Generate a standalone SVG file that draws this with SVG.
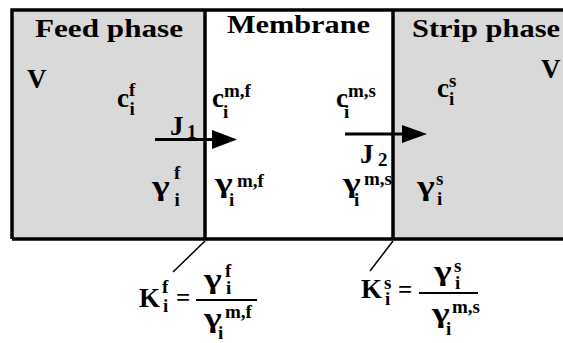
<svg xmlns="http://www.w3.org/2000/svg" width="563" height="343" viewBox="0 0 563 343">
<style>
.t{font-family:"Liberation Serif","Times New Roman",serif;font-weight:bold;fill:#000}
.h{font-size:25px}
.b{font-size:27px}
.s{font-size:19px}
.ln{stroke:#000;fill:none}
</style>
<rect width="563" height="343" fill="#fff"/>
<g id="feed-phase">
<rect x="12" y="10" width="193" height="229" fill="#d9d9d9"/>
<text class="t h" x="35" y="37" textLength="148" lengthAdjust="spacingAndGlyphs">Feed phase</text>
<text class="t b" x="27" y="88">V</text>
<text class="t b" x="117" y="107">c<tspan class="s" x="129" y="96">f</tspan><tspan class="s" x="129.5" y="115">i</tspan></text>
<text class="t b" x="152" y="195" transform="translate(152 0) scale(1.4 1) translate(-152 0)">γ</text>
<text class="t s" x="174" y="179">f<tspan x="174.5" y="206">i</tspan></text>
</g>
<g id="membrane">
<rect x="205" y="10" width="188" height="229" fill="#fff"/>
<text class="t h" x="227" y="33" textLength="143" lengthAdjust="spacingAndGlyphs">Membrane</text>
<text class="t b" x="212" y="107">c<tspan class="s" x="224" y="97">m,f</tspan><tspan class="s" x="223" y="118">i</tspan></text>
<text class="t b" x="336" y="107">c<tspan class="s" x="348" y="97">m,s</tspan><tspan class="s" x="344" y="118">i</tspan></text>
<text class="t b" x="215" y="192" transform="translate(215 0) scale(1.4 1) translate(-215 0)">γ</text>
<text class="t s" x="237" y="187">m,f<tspan x="229" y="206">i</tspan></text>
<text class="t b" x="343" y="192" transform="translate(343 0) scale(1.4 1) translate(-343 0)">γ</text>
<text class="t s" x="364" y="185">m,s<tspan x="354" y="206">i</tspan></text>
</g>
<g id="strip-phase">
<rect x="393" y="10" width="172" height="229" fill="#d9d9d9"/>
<text class="t h" x="412" y="37" textLength="148" lengthAdjust="spacingAndGlyphs">Strip phase</text>
<text class="t b" x="541" y="78">V</text>
<text class="t b" x="437" y="97">c<tspan class="s" x="449" y="87">s</tspan><tspan class="s" x="449" y="105">i</tspan></text>
<text class="t b" x="417" y="195" transform="translate(417 0) scale(1.4 1) translate(-417 0)">γ</text>
<text class="t s" x="436" y="185">s<tspan x="437" y="205">i</tspan></text>
</g>
<g id="frame" class="ln" stroke-width="3.5">
<path d="M12 239 V10 H565 M12 239 H565 M205 10 V239 M393 10 V239"/>
</g>
<g id="connectors">
<path class="ln" stroke-width="3" d="M155 139.5 H214"/>
<path d="M212 130 L237 139.5 L212 149 Z"/>
<text class="t b" x="170" y="135">J<tspan class="s" x="187" y="138">1</tspan></text>
<path class="ln" stroke-width="3" d="M345 134 H404"/>
<path d="M402 125 L427 134 L402 143 Z"/>
<text class="t b" x="360" y="163">J<tspan class="s" x="378" y="166">2</tspan></text>
<path class="ln" stroke-width="1.5" d="M205 241 L173 272"/>
<path class="ln" stroke-width="1.5" d="M393 241 L370 271"/>
</g>
<g id="formula-f">
<text class="t b" x="139" y="307">K<tspan class="s" x="162" y="293">f</tspan><tspan class="s" x="163" y="312">i</tspan></text>
<text class="t h" x="176" y="306">=</text>
<path class="ln" stroke-width="2" d="M196 300 H257"/>
<text class="t b" x="204" y="288" transform="translate(204 0) scale(1.4 1) translate(-204 0)">γ</text>
<text class="t s" x="225" y="277">f<tspan x="226" y="294">i</tspan></text>
<text class="t b" x="204" y="327" transform="translate(204 0) scale(1.4 1) translate(-204 0)">γ</text>
<text class="t s" x="225" y="318">m,f<tspan x="218" y="339">i</tspan></text>
</g>
<g id="formula-s">
<text class="t b" x="361" y="298">K<tspan class="s" x="384" y="289">s</tspan><tspan class="s" x="385" y="305">i</tspan></text>
<text class="t h" x="398" y="298">=</text>
<path class="ln" stroke-width="2" d="M419 293 H478"/>
<text class="t b" x="434" y="280" transform="translate(434 0) scale(1.4 1) translate(-434 0)">γ</text>
<text class="t s" x="454" y="272">s<tspan x="455" y="289">i</tspan></text>
<text class="t b" x="432" y="322" transform="translate(432 0) scale(1.4 1) translate(-432 0)">γ</text>
<text class="t s" x="452" y="313">m,s<tspan x="446" y="335">i</tspan></text>
</g>
</svg>
